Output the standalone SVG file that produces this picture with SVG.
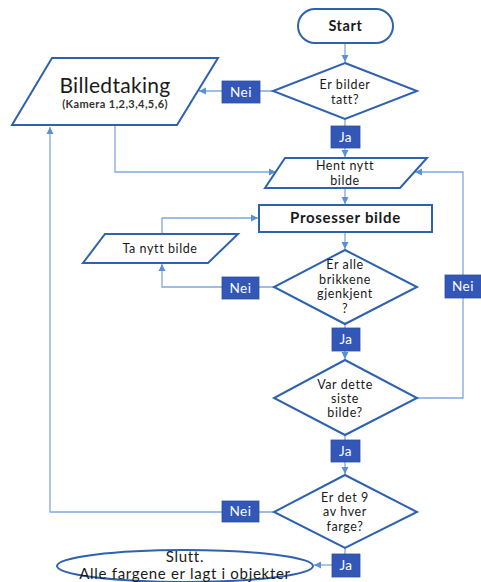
<svg xmlns="http://www.w3.org/2000/svg" width="481" height="582" viewBox="0 0 481 582">
<defs>
<marker id="ah" markerWidth="8" markerHeight="8" refX="7" refY="4" orient="auto" markerUnits="userSpaceOnUse">
<path d="M0,0.5 L7,4 L0,7.5 Z" fill="#5B8FD6"/>
</marker>
<style>
.shape{fill:#fff;stroke:#2E62AE;stroke-width:2}
.con{fill:none;stroke:#7FA8DE;stroke-width:1.3}
.lbl{fill:#3357B7;stroke:#2D4E9E;stroke-width:0.8}
.lt{font-family:Lato,"Liberation Sans",sans-serif;font-size:13.5px;letter-spacing:0.5px;fill:#fff;text-anchor:middle}
.t{font-family:Lato,"Liberation Sans",sans-serif;font-size:12.5px;letter-spacing:0.6px;fill:#1a1a1a;text-anchor:middle}
</style>
</defs>
<rect width="481" height="582" fill="#fff"/>
<g id="connectors">
<path class="con" d="M345,43 V62" marker-end="url(#ah)"/>
<path class="con" d="M273,91 H199" marker-end="url(#ah)"/>
<path class="con" d="M345,119 V157" marker-end="url(#ah)"/>
<path class="con" d="M115,125 V172 H276" marker-end="url(#ah)"/>
<path class="con" d="M345,188 V204" marker-end="url(#ah)"/>
<path class="con" d="M345,232 V249" marker-end="url(#ah)"/>
<path class="con" d="M274,287 H162 V264" marker-end="url(#ah)"/>
<path class="con" d="M162,234 V218 H258" marker-end="url(#ah)"/>
<path class="con" d="M345,324 V359" marker-end="url(#ah)"/>
<path class="con" d="M417,398 H463 V172 H415" marker-end="url(#ah)"/>
<path class="con" d="M345,435 V474" marker-end="url(#ah)"/>
<path class="con" d="M274,512 H50 V127" marker-end="url(#ah)"/>
<path class="con" d="M345,548 V554"/>
<path class="con" d="M332,565 H314" marker-end="url(#ah)"/>
</g>
<g id="start">
<rect class="shape" x="298" y="9" width="95" height="34" rx="17"/>
<text class="t" x="345.5" y="31" style="font-size:14.5px;font-weight:bold">Start</text>
</g>
<g id="d1">
<polygon class="shape" points="345,63 417,91 345,119 273,91"/>
<text class="t" x="345" y="89">Er bilder</text>
<text class="t" x="345" y="104">tatt?</text>
</g>
<g id="billedtaking">
<polygon class="shape" points="52,58 218,58 177,125 12,125"/>
<text class="t" x="115" y="93" style="font-size:21px;letter-spacing:0.3px">Billedtaking</text>
<text class="t" x="115" y="108" style="font-size:11px;letter-spacing:0.4px;font-weight:bold;fill:#333">(Kamera 1,2,3,4,5,6)</text>
</g>
<g id="hent">
<polygon class="shape" points="285,158 427,158 400,188 265,188"/>
<text class="t" x="345" y="170">Hent nytt</text>
<text class="t" x="345" y="185">bilde</text>
</g>
<g id="prosesser">
<rect class="shape" x="259" y="205" width="173" height="27"/>
<text class="t" x="345.5" y="223" style="font-size:15px;letter-spacing:0.7px;font-weight:bold">Prosesser bilde</text>
</g>
<g id="tanytt">
<polygon class="shape" points="105,234 238,234 208,263 83,263"/>
<text class="t" x="160" y="253">Ta nytt bilde</text>
</g>
<g id="d2">
<polygon class="shape" points="345,250 417,287 345,324 274,287"/>
<text class="t" x="345" y="269">Er alle</text>
<text class="t" x="345" y="284">brikkene</text>
<text class="t" x="345" y="298">gjenkjent</text>
<text class="t" x="345" y="313">?</text>
</g>
<g id="d3">
<polygon class="shape" points="345,360 417,398 345,435 274,398"/>
<text class="t" x="345" y="389">Var dette</text>
<text class="t" x="345" y="403">siste</text>
<text class="t" x="345" y="417">bilde?</text>
</g>
<g id="d4">
<polygon class="shape" points="345,475 417,512 345,548 274,512"/>
<text class="t" x="345" y="502">Er det 9</text>
<text class="t" x="345" y="516">av hver</text>
<text class="t" x="345" y="531">farge?</text>
</g>
<g id="slutt">
<ellipse class="shape" cx="185" cy="566" rx="128" ry="16"/>
<text class="t" x="185" y="562" style="font-size:15px;letter-spacing:0.7px">Slutt.</text>
<text class="t" x="185" y="579" style="font-size:15px;letter-spacing:0.7px">Alle fargene er lagt i objekter</text>
</g>
<g id="labels">
<g id="nei1"><rect class="lbl" x="222" y="81" width="38" height="22"/><text class="lt" x="241" y="97">Nei</text></g>
<g id="ja1"><rect class="lbl" x="331" y="126" width="29" height="22"/><text class="lt" x="345.5" y="142">Ja</text></g>
<g id="nei2"><rect class="lbl" x="222" y="277" width="37" height="22"/><text class="lt" x="240.5" y="293">Nei</text></g>
<g id="ja2"><rect class="lbl" x="332" y="328" width="28" height="23"/><text class="lt" x="346" y="344">Ja</text></g>
<g id="nei3"><rect class="lbl" x="445" y="275" width="37" height="23"/><text class="lt" x="463" y="291">Nei</text></g>
<g id="ja3"><rect class="lbl" x="331" y="440" width="29" height="22"/><text class="lt" x="345.5" y="456">Ja</text></g>
<g id="nei4"><rect class="lbl" x="222" y="501" width="37" height="21"/><text class="lt" x="240.5" y="516">Nei</text></g>
<g id="ja4"><rect class="lbl" x="332" y="554" width="28" height="23"/><text class="lt" x="346" y="570">Ja</text></g>
</g>
</svg>
